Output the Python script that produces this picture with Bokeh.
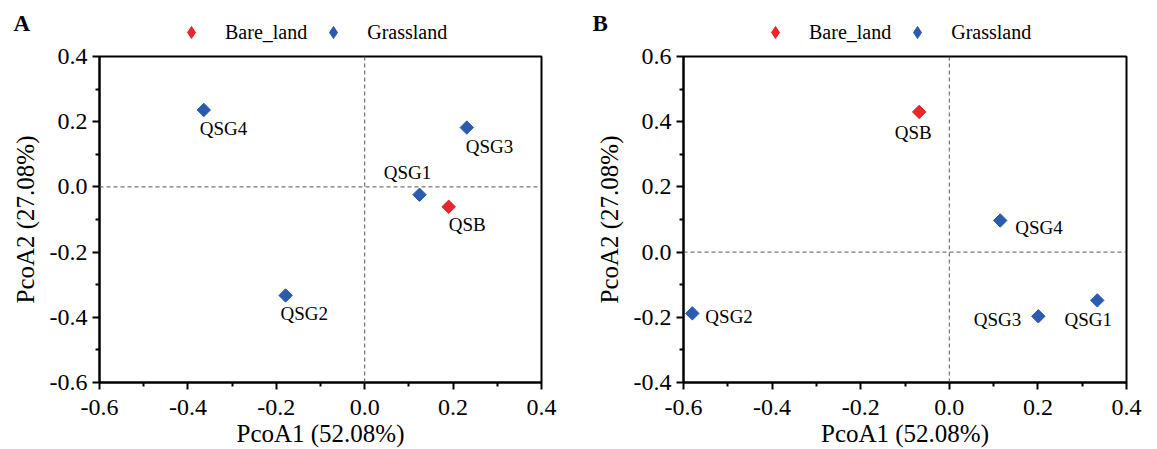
from bokeh.plotting import figure
from bokeh.layouts import row, column
from bokeh.models import (ColumnDataSource, Range1d, Span, Legend, LegendItem,
                          FixedTicker, NumeralTickFormatter, Label)
from bokeh.embed import file_html
from bokeh.resources import INLINE
import math

# ---------------- data ----------------
groups = ["Bare_land", "Grassland"]
group_colors = ["#E8262B", "#2B5BAF"]

# Panel A
a_samples = ["QSB", "QSG1", "QSG2", "QSG3", "QSG4"]
a_group = ["Bare_land", "Grassland", "Grassland", "Grassland", "Grassland"]
a_pco1 = [0.190, 0.124, -0.179, 0.231, -0.364]
a_pco2 = [-0.061, -0.024, -0.333, 0.182, 0.236]

# Panel B
b_samples = ["QSB", "QSG1", "QSG2", "QSG3", "QSG4"]
b_group = ["Bare_land", "Grassland", "Grassland", "Grassland", "Grassland"]
b_pco1 = [-0.068, 0.334, -0.580, 0.201, 0.115]
b_pco2 = [0.430, -0.148, -0.188, -0.197, 0.097]

x_title = "PcoA1 (52.08%)"
y_title = "PcoA2 (27.08%)"

a_x_ticks = [-0.6, -0.4, -0.2, 0.0, 0.2, 0.4]
a_y_ticks = [-0.6, -0.4, -0.2, 0.0, 0.2, 0.4]
b_x_ticks = [-0.6, -0.4, -0.2, 0.0, 0.2, 0.4]
b_y_ticks = [-0.4, -0.2, 0.0, 0.2, 0.4, 0.6]

# label placement (pixels, align) per sample
a_lab_dx = [0, -12, -5, -1, -4]
a_lab_dy = [18, -22, 18, 19, 19]
a_lab_align = ["left", "center", "left", "left", "left"]

b_lab_dx = [-6, -9, 13, -17, 15]
b_lab_dy = [21, 19, 3, 3, 7]
b_lab_align = ["center", "center", "left", "right", "left"]

FONT = "Liberation Serif"
STRIP_H = 43
FIG_H = 449 - STRIP_H
NAN = float("nan")


def minors(ticks):
    return [round((a + b) / 2, 6) for a, b in zip(ticks[:-1], ticks[1:])]


def make_strip(letter, width, legend_x):
    s = figure(width=width, height=STRIP_H, output_backend="svg", toolbar_location=None,
               x_range=Range1d(0, width), y_range=Range1d(0, STRIP_H),
               x_axis_type=None, y_axis_type=None,
               min_border_left=0, min_border_right=0, min_border_top=0,
               min_border_bottom=0)
    s.frame_align = False
    s.grid.visible = False
    s.outline_line_color = None
    s.background_fill_color = "white"
    s.border_fill_color = "white"
    items = []
    for g, c in zip(groups, group_colors):
        src = ColumnDataSource(dict(x=[NAN], y=[NAN]))
        r = s.scatter("x", "y", source=src, marker="diamond", size=12,
                      fill_color=c, line_color=c)
        items.append(LegendItem(label=g, renderers=[r]))
    leg = Legend(items=items, orientation="horizontal", location=(legend_x, -5),
                 border_line_color=None, background_fill_alpha=0,
                 label_text_font=FONT, label_text_font_size="20px",
                 label_text_color="black", padding=0, margin=0, spacing=11,
                 glyph_width=30, glyph_height=32, label_standoff=19)
    s.add_layout(leg, "center")
    s.add_layout(Label(x=13, y=STRIP_H - 23, text=letter, text_font=FONT,
                       text_font_size="23px", text_font_style="bold",
                       text_baseline="middle", text_align="left", text_color="black"))
    return s


def make_panel(samples, grp, xs, ys, dx, dy, al, xt, yt, bl, br, width):
    p = figure(width=width, height=FIG_H, output_backend="svg", toolbar_location=None,
               x_range=Range1d(xt[0], xt[-1]), y_range=Range1d(yt[0], yt[-1]),
               min_border_left=bl, min_border_right=br, min_border_top=13,
               min_border_bottom=67)
    p.grid.visible = False
    p.background_fill_color = "white"
    p.border_fill_color = "white"
    p.outline_line_color = "black"
    p.outline_line_width = 2
    p.outline_line_alpha = 1

    for ax, ticks in ((p.xaxis[0], xt), (p.yaxis[0], yt)):
        ax.ticker = FixedTicker(ticks=ticks, minor_ticks=minors(ticks))
        ax.formatter = NumeralTickFormatter(format="0.0")
        ax.axis_line_width = 2
        ax.axis_line_color = "black"
        ax.major_tick_line_width = 2
        ax.minor_tick_line_width = 2
        ax.major_tick_out = 7
        ax.major_tick_in = 0
        ax.minor_tick_out = 4
        ax.minor_tick_in = 0
        ax.major_label_text_font = FONT
        ax.major_label_text_font_size = "24px"
        ax.major_label_text_color = "black"
        ax.axis_label_text_font = FONT
        ax.axis_label_text_font_size = "25px"
        ax.axis_label_text_font_style = "normal"
        ax.axis_label_text_color = "black"
    p.xaxis.axis_label = x_title
    p.yaxis.axis_label = y_title
    p.xaxis.major_label_standoff = 10
    p.xaxis.axis_label_standoff = 2
    p.yaxis.major_label_standoff = 5
    p.yaxis.axis_label_standoff = 8

    p.add_layout(Span(location=0, dimension="height", line_dash="4 3",
                      line_color="#555555", line_width=1))
    p.add_layout(Span(location=0, dimension="width", line_dash="4 3",
                      line_color="#555555", line_width=1))

    for g, c in zip(groups, group_colors):
        idx = [i for i, gg in enumerate(grp) if gg == g]
        src = ColumnDataSource(dict(x=[xs[i] for i in idx], y=[ys[i] for i in idx]))
        p.scatter("x", "y", source=src, marker="square", angle=math.pi / 4,
                  size=9.5, fill_color=c, line_color=c)

    lsrc = ColumnDataSource(dict(x=xs, y=ys, t=samples, dx=dx, dy=dy, al=al))
    p.text("x", "y", text="t", source=lsrc, x_offset="dx", y_offset="dy",
           text_align="al", text_baseline="middle", text_font_size="19px",
           text_color="black", text_font={"value": FONT})
    return p


sA = make_strip("A", 579, 176)
sB = make_strip("B", 578, 181)
pA = make_panel(a_samples, a_group, a_pco1, a_pco2, a_lab_dx, a_lab_dy, a_lab_align,
                a_x_ticks, a_y_ticks, 99, 38, 579)
pB = make_panel(b_samples, b_group, b_pco1, b_pco2, b_lab_dx, b_lab_dy, b_lab_align,
                b_x_ticks, b_y_ticks, 104, 31, 578)

layout = row(column(sA, pA, spacing=0), column(sB, pB, spacing=0), spacing=0)
open("out.html", "w").write(file_html(layout, INLINE))
